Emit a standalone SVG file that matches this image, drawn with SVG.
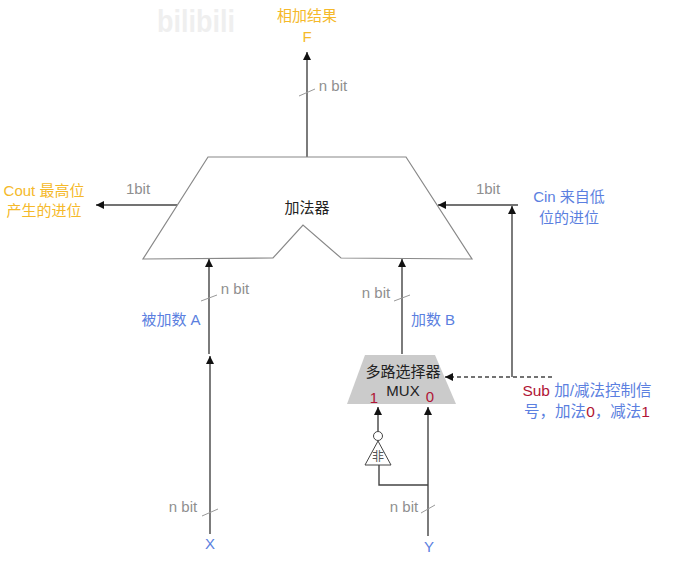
<svg xmlns="http://www.w3.org/2000/svg" width="689" height="566" viewBox="0 0 689 566">
<style>
text{font-family:"Liberation Sans","Noto Sans CJK SC",sans-serif;font-size:15px;text-anchor:middle}
.y{fill:#f5b92a}.b{fill:#5b7fe0}.g{fill:#8f8f8f}.r{fill:#b01535}.k{fill:#222}
.l{fill:none;stroke:#444;stroke-width:1.4}
.t{fill:none;stroke:#999;stroke-width:1}
.s{fill:none;stroke:#888;stroke-width:1.2}
</style>
<defs>
<marker id="a" markerUnits="userSpaceOnUse" markerWidth="10" markerHeight="10" refX="8" refY="4" orient="auto"><path d="M0 0L8 4L0 8Z" fill="#111"/></marker>
</defs>
<rect width="689" height="566" fill="#fff"/>
<g id="watermark"><text x="196" y="32" style="font-size:31px;font-weight:700;fill:#efefef" textLength="78" lengthAdjust="spacingAndGlyphs">bilibili</text></g>
<g id="connectors">
<path class="l" d="M307 157V52" marker-end="url(#a)"/>
<path class="t" d="M299 96L315 89"/>
<path class="l" d="M177 205H96" marker-end="url(#a)"/>
<path class="l" d="M518 205H438" marker-end="url(#a)"/>
<path class="l" d="M209 354V259" marker-end="url(#a)"/>
<path class="t" d="M201 301L217 295"/>
<path class="l" d="M210 534V356" marker-end="url(#a)"/>
<path class="t" d="M202 516L218 509"/>
<path class="l" d="M402 354V259" marker-end="url(#a)"/>
<path class="t" d="M394 301L410 295"/>
<path class="l" d="M428 536V407" marker-end="url(#a)"/>
<path class="t" d="M421 513L435 505"/>
<path class="l" d="M379 465V485H428"/>
<path class="l" d="M378 431V407" marker-end="url(#a)"/>
<path class="l" d="M512 377V206" marker-end="url(#a)"/>
<path class="l" d="M552 377H445" stroke-dasharray="4 3" marker-end="url(#a)"/>
</g>
<g id="adder">
<path class="s" d="M208 157H406L472 259L341 258L303 225L273 258L143 259Z" style="fill:#fff"/>
<text class="k" x="307" y="213">加法器</text>
</g>
<g id="mux">
<path d="M365 355H435L456 404H347Z" fill="#cbcbcb"/>
<text class="k" x="403" y="377">多路选择器</text>
<text class="k" x="403" y="396">MUX</text>
<text class="r" x="374" y="403">1</text>
<text class="r" x="430" y="402">0</text>
</g>
<g id="not">
<circle cx="378" cy="436" r="4.5" fill="#fff" stroke="#444"/>
<path d="M378 441L391 465H365Z" fill="#fff" stroke="#444"/>
<text x="378" y="461" style="font-size:12px;fill:#555">非</text>
</g>
<g id="labels">
<text class="y" x="307" y="21">相加结果</text>
<text class="y" x="307" y="42">F</text>
<text class="g" x="333" y="91">n bit</text>
<text class="y" x="44" y="196">Cout 最高位</text>
<text class="y" x="44" y="216">产生的进位</text>
<text class="g" x="138" y="194">1bit</text>
<text class="g" x="488" y="194">1bit</text>
<text class="b" x="569" y="202">Cin 来自低</text>
<text class="b" x="569" y="223">位的进位</text>
<text class="g" x="235" y="294">n bit</text>
<text class="b" x="171" y="325">被加数 A</text>
<text class="g" x="376" y="298">n bit</text>
<text class="b" x="433" y="325">加数 B</text>
<text x="587" y="396" style="font-size:15.5px"><tspan class="r">Sub</tspan><tspan class="b"> 加/减法控制信</tspan></text>
<text x="587" y="417" style="font-size:15.5px"><tspan class="b">号，加法</tspan><tspan class="r">0</tspan><tspan class="b">，减法</tspan><tspan class="r">1</tspan></text>
<text class="g" x="183" y="512">n bit</text>
<text class="g" x="404" y="512">n bit</text>
<text class="b" x="210" y="549">X</text>
<text class="b" x="429" y="552">Y</text>
</g>
</svg>
